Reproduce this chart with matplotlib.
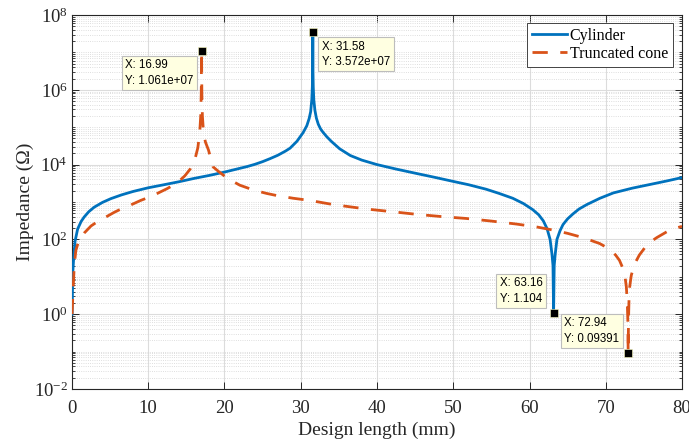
import numpy as np
import matplotlib
matplotlib.use("Agg")
import matplotlib.pyplot as plt
from matplotlib.ticker import LogLocator, NullFormatter, MultipleLocator

# Cylinder impedance vs design length
cyl_x = [0.01, 0.1, 0.22, 0.4, 0.74, 1.2, 1.6, 2.2, 2.9, 4.0, 5.1, 6.5, 8.0, 10.0,
         12.0, 14.0, 16.0, 18.0, 20.0, 22.0, 23.0, 24.0, 25.0, 26.0, 27.0, 28.0,
         28.6, 29.5, 30.3, 30.8, 31.1, 31.3, 31.45, 31.52, 31.555, 31.58, 31.605,
         31.64, 31.71, 31.86, 32.05, 32.3, 32.6, 32.9, 33.4, 34.0, 35.1, 36.5,
         38.0, 40.0, 42.5, 45.0, 47.5, 50.0, 52.0, 54.3, 56.0, 57.8, 59.2, 60.4,
         61.2, 61.8, 62.3, 62.7, 62.95, 63.08, 63.16, 63.24, 63.37, 63.6, 64.0,
         64.4, 65.0, 65.7, 66.5, 67.5, 69.2, 71.0, 73.5, 76.0, 78.0, 80.0]
cyl_z = [1.0, 12.6, 31.6, 89.1, 190, 302, 398, 550, 724, 977, 1230, 1550, 1910,
         2400, 2880, 3470, 4270, 5130, 6310, 7940, 8900, 1.02e4, 1.2e4, 1.45e4,
         1.78e4, 2.3e4, 2.75e4, 4.2e4, 7.1e4, 1.1e5, 1.7e5, 2.6e5, 5.5e5, 1.2e6,
         3.0e6, 3.572e7, 3.0e6, 1.2e6, 5.5e5, 2.8e5, 1.75e5, 1.2e5, 9.0e4, 7.4e4,
         5.6e4, 4.2e4, 2.65e4, 1.75e4, 1.32e4, 1.0e4, 7600, 5900, 4600, 3550,
         2900, 2200, 1700, 1260, 910, 630, 457, 316, 195, 100, 40, 20, 1.104, 20,
         40, 100, 170, 250, 355, 480, 650, 850, 1250, 1750, 2350, 3000, 3650, 4500]

# Truncated cone impedance vs design length
cone_x = [0.01, 0.15, 0.3, 0.5, 0.9, 1.6, 2.5, 3.3, 4.2, 5.5, 6.5, 7.7, 9.0, 10.0,
          11.2, 12.5, 13.8, 14.8, 15.5, 16.1, 16.5, 16.75, 16.88, 16.95, 16.99,
          17.03, 17.1, 17.25, 17.5, 17.9, 18.5, 19.2, 20.4, 22.0, 23.8, 25.5, 26.9,
          29.0, 31.2, 34.3, 38.7, 42.0, 45.2, 48.5, 51.7, 55.0, 58.3, 61.0, 63.05,
          65.0, 67.0, 69.2, 70.5, 71.3, 71.8, 72.2, 72.5, 72.7, 72.82, 72.9, 72.94,
          72.98, 73.05, 73.15, 73.35, 73.8, 74.4, 75.5, 76.7, 78.4, 80.0]
cone_z = [1.0, 5.0, 20.0, 50.0, 95.0, 148, 229, 295, 372, 525, 661, 832, 1100,
          1320, 1700, 2290, 3240, 5010, 7590, 1.32e4, 2.8e4, 7.1e4, 2.0e5, 8.0e5,
          1.061e7, 8.0e5, 2.0e5, 7.1e4, 4.0e4, 2.45e4, 8710, 6600, 4270, 2820, 2090,
          1700, 1480, 1260, 1100, 851, 646, 550, 468, 407, 363, 309, 257, 214, 178,
          145, 112, 77.6, 55.0, 38.0, 27.5, 17.8, 11.2, 5.4, 2.2, 0.63, 0.09391,
          0.63, 2.5, 5.6, 11.0, 22.4, 38.0, 75.9, 112, 178, 224]

# data tips: (x, y, text, offset in pixels, ha, va)
tips = [
    (16.99, 1.061e7, "X: 16.99\nY: 1.061e+07", (-8, -8), "right", "top"),
    (31.58, 3.572e7, "X: 31.58\nY: 3.572e+07", (9, -9), "left", "top"),
    (63.16, 1.104, "X: 63.16\nY: 1.104", (-11, 8), "right", "bottom"),
    (72.94, 0.09391, "X: 72.94\nY: 0.09391", (-9, 8), "right", "bottom"),
]

plt.rcParams["font.family"] = ["Liberation Serif", "DejaVu Serif"]
plt.rcParams["mathtext.fontset"] = "custom"
plt.rcParams["mathtext.rm"] = "Liberation Serif"
plt.rcParams["mathtext.it"] = "Liberation Serif:italic"

dark = "#262626"
blue = "#0072BD"
orange = "#D95319"

fig = plt.figure(figsize=(6.89, 4.45), dpi=100)
ax = fig.add_axes([72 / 689, 1 - 389 / 445, 610 / 689, 374 / 445])

ax.plot(cyl_x, cyl_z, color=blue, lw=2.0, label="Cylinder", zorder=3)
ax.plot(cone_x, cone_z, color=orange, lw=2.0, ls=(0, (5.5, 4.5)),
        label="Truncated cone", zorder=3)

ax.set_yscale("log")
ax.set_xlim(0, 80)
ax.set_ylim(1e-2, 1e8)
ax.xaxis.set_major_locator(MultipleLocator(10))
ax.yaxis.set_major_locator(LogLocator(base=100, numticks=10))
ax.yaxis.set_minor_locator(LogLocator(base=10, subs=np.arange(1, 10), numticks=20))
ax.yaxis.set_minor_formatter(NullFormatter())

ax.grid(True, which="major", color="#dcdcdc", lw=0.8, ls="-", zorder=0)
ax.yaxis.grid(True, which="minor", color="#d4d4d4", lw=0.6, ls=":", zorder=0)

ax.tick_params(which="both", direction="in", top=True, right=True, colors=dark,
               labelcolor=dark, labelsize=13.5)
ax.tick_params(which="major", length=5, width=0.7)
ax.tick_params(which="minor", length=2.5, width=0.6)
ax.tick_params(axis="x", pad=8)
ax.tick_params(axis="y", pad=3)
for s in ax.spines.values():
    s.set_color(dark)
    s.set_linewidth(0.8)

ax.set_xlabel("Design length (mm)", fontsize=14, color=dark, labelpad=3)
ax.set_ylabel("Impedance (Ω)", fontsize=14, color=dark, labelpad=0)

for x, y, txt, off, ha, va in tips:
    ax.plot([x], [y], marker="s", ms=5.5, color="black", mec="#ffffc0",
            mew=0.4, zorder=5, clip_on=False)
    ax.annotate(txt, xy=(x, y), xytext=off, textcoords="offset pixels",
                ha=ha, va=va, multialignment="left", fontsize=8.3,
                family="Liberation Sans", linespacing=1.35, color="black",
                zorder=6,
                bbox=dict(boxstyle="square,pad=0.3", fc="#ffffe1",
                          ec="#bdbdbd", lw=0.8))

leg = ax.legend(loc="upper right", bbox_to_anchor=(0.985, 0.979),
                borderaxespad=0, fontsize=11.5, handlelength=2.2,
                handletextpad=0.15, borderpad=0.3, labelspacing=0.15,
                fancybox=False, framealpha=1, edgecolor=dark)
leg.get_frame().set_linewidth(0.6)

fig.savefig("out.png", dpi=100)
